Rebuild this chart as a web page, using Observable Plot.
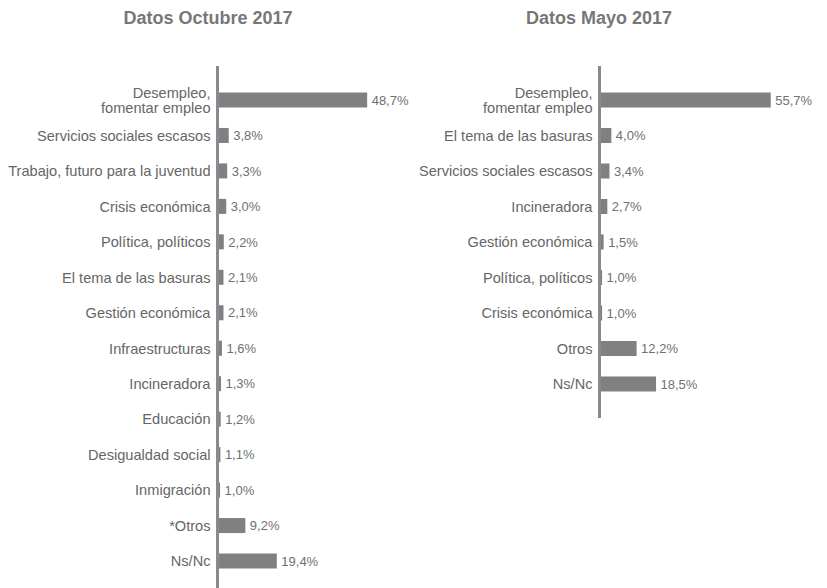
<!DOCTYPE html>
<html>
<head>
<meta charset="utf-8">
<script src="https://cdn.jsdelivr.net/npm/d3@7"></script>
<script src="https://cdn.jsdelivr.net/npm/@observablehq/plot@0.6"></script>
<style>
  body { margin: 0; background: white; font-family: "Liberation Sans", Arial, sans-serif; }
  #wrap { position: relative; width: 827px; height: 588px; overflow: hidden; }
  .title { position: absolute; top: 8px; font-size: 18px; font-weight: bold; color: #777; text-align: center; line-height: 20px; }
  .panel { position: absolute; top: 40px; }
</style>
</head>
<body>
<div id="wrap">
  <div class="title" style="left:0px;width:416px;">Datos Octubre 2017</div>
  <div class="title" style="left:399px;width:400px;">Datos Mayo 2017</div>
  <div class="panel" id="left" style="left:0px;"></div>
  <div class="panel" id="right" style="left:382px;"></div>
</div>
<script>
const octCats = ["Desempleo,\nfomentar empleo", "Servicios sociales escasos", "Trabajo, futuro para la juventud", "Crisis económica", "Política, políticos", "El tema de las basuras", "Gestión económica", "Infraestructuras", "Incineradora", "Educación", "Desigualdad social", "Inmigración", "*Otros", "Ns/Nc"];
const octVals = [48.7, 3.8, 3.3, 3.0, 2.2, 2.1, 2.1, 1.6, 1.3, 1.2, 1.1, 1.0, 9.2, 19.4];
const mayCats = ["Desempleo,\nfomentar empleo", "El tema de las basuras", "Servicios sociales escasos", "Incineradora", "Gestión económica", "Política, políticos", "Crisis económica", "Otros", "Ns/Nc"];
const mayVals = [55.7, 4.0, 3.4, 2.7, 1.5, 1.0, 1.0, 12.2, 18.5];

const fmt = v => v.toFixed(1).replace(".", ",") + "%";

function panel(cats, vals, width, height, marginRight) {
  const data = cats.map((c, i) => ({c, v: vals[i]}));
  return Plot.plot({
    width,
    height,
    marginLeft: 217,
    marginRight,
    marginTop: 26,
    marginBottom: 0,
    style: {fontFamily: "'Liberation Sans', Arial, sans-serif", color: "#666", background: "transparent", overflow: "visible"},
    x: {domain: [0, 60], axis: null},
    y: {domain: cats, paddingInner: 0.577, paddingOuter: 0.747, round: false, label: null},
    marks: [
      Plot.barX(data, {x: "v", y: "c", fill: "#808083"}),
      Plot.text(data, {x: "v", y: "c", text: d => fmt(d.v), textAnchor: "start", dx: 4, fill: "#707070", fontSize: 13}),
      Plot.ruleX([0], {stroke: "#8a8a8c", strokeWidth: 3}),
      Plot.axisY({tickSize: 0, tickPadding: 7, fontSize: 14.6, label: null, lineHeight: 1.03})
    ]
  });
}

document.getElementById("left").append(panel(octCats, octVals, 420, 555, 18));
document.getElementById("right").append(panel(mayCats, mayVals, 445, 378, 43));
</script>
</body>
</html>
